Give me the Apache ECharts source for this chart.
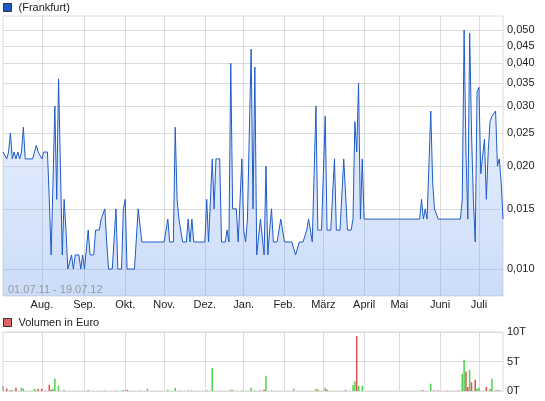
<!DOCTYPE html>
<html>
<head>
<meta charset="utf-8">
<script src="https://cdn.jsdelivr.net/npm/echarts@6/dist/echarts.min.js"></script>
<style>
  html, body { margin: 0; padding: 0; background: #fff; }
  #chart { width: 545px; height: 401px; }
</style>
</head>
<body>
<div id="chart"></div>
<script>
// Handelstage 01.07.11 - 19.07.12 (Wochenenden und Feiertage fallen weg)
const holidays = ['2011-12-26', '2012-04-06', '2012-04-09', '2012-05-01']
const dates = []
for (let d = new Date(Date.UTC(2011, 6, 1)); d <= new Date(Date.UTC(2012, 6, 19)); d.setUTCDate(d.getUTCDate() + 1)) {
  const wd = d.getUTCDay()
  const s = d.toISOString().slice(0, 10)
  if (wd === 0 || wd === 6 || holidays.indexOf(s) >= 0) continue
  dates.push(s)
}

const monthNames = ['Jan.', 'Feb.', 'März', 'April', 'Mai', 'Juni', 'Juli', 'Aug.', 'Sep.', 'Okt.', 'Nov.', 'Dez.']

// Schlusskurse in Euro
const prices = [
  0.022, 0.022, 0.021, 0.022, 0.025, 0.021, 0.022, 0.021, 0.022, 0.021,
  0.022, 0.026, 0.021, 0.021, 0.021, 0.021, 0.021, 0.022, 0.023, 0.022,
  0.022, 0.021, 0.022, 0.022, 0.022, 0.016, 0.011, 0.018, 0.030, 0.016,
  0.036, 0.020, 0.011, 0.016, 0.013, 0.010, 0.010, 0.011, 0.010, 0.011,
  0.011, 0.011, 0.010, 0.011, 0.010, 0.010, 0.013, 0.011, 0.011, 0.011,
  0.013, 0.013, 0.013, 0.014, 0.014, 0.015, 0.012, 0.010, 0.010, 0.010,
  0.010, 0.015, 0.010, 0.010, 0.010, 0.015, 0.016, 0.010, 0.010, 0.010,
  0.010, 0.010, 0.010, 0.015, 0.015, 0.012, 0.012, 0.012, 0.012, 0.012,
  0.012, 0.012, 0.012, 0.012, 0.012, 0.012, 0.012, 0.012, 0.012, 0.014,
  0.012, 0.012, 0.012, 0.026, 0.016, 0.014, 0.014, 0.012, 0.012, 0.012,
  0.014, 0.012, 0.014, 0.012, 0.012, 0.012, 0.012, 0.012, 0.012, 0.012,
  0.016, 0.012, 0.012, 0.021, 0.015, 0.021, 0.021, 0.021, 0.012, 0.012,
  0.012, 0.013, 0.012, 0.040, 0.015, 0.015, 0.015, 0.012, 0.012, 0.021,
  0.013, 0.012, 0.014, 0.014, 0.044, 0.015, 0.039, 0.011, 0.011, 0.014,
  0.014, 0.011, 0.020, 0.011, 0.013, 0.015, 0.012, 0.012, 0.012, 0.012,
  0.014, 0.014, 0.012, 0.012, 0.012, 0.012, 0.012, 0.012, 0.011, 0.011,
  0.012, 0.012, 0.012, 0.012, 0.013, 0.014, 0.013, 0.012, 0.012, 0.030,
  0.013, 0.013, 0.013, 0.013, 0.028, 0.013, 0.013, 0.013, 0.013, 0.021,
  0.013, 0.013, 0.013, 0.013, 0.021, 0.021, 0.013, 0.013, 0.013, 0.014,
  0.027, 0.022, 0.035, 0.014, 0.021, 0.014, 0.014, 0.014, 0.014, 0.014,
  0.014, 0.014, 0.014, 0.014, 0.014, 0.014, 0.014, 0.014, 0.014, 0.014,
  0.014, 0.014, 0.014, 0.014, 0.014, 0.014, 0.014, 0.014, 0.014, 0.014,
  0.014, 0.014, 0.014, 0.014, 0.014, 0.014, 0.016, 0.014, 0.015, 0.014,
  0.014, 0.029, 0.018, 0.015, 0.015, 0.014, 0.014, 0.014, 0.014, 0.014,
  0.014, 0.014, 0.014, 0.014, 0.014, 0.014, 0.014, 0.014, 0.016, 0.050,
  0.022, 0.014, 0.049, 0.025, 0.016, 0.012, 0.033, 0.034, 0.019, 0.019,
  0.024, 0.016, 0.022, 0.027, 0.028, 0.028, 0.029, 0.020, 0.021, 0.018,
  0.014
]

// Umsatz in Tausend Euro, nur Tage mit Umsatz (Index Handelstag, Wert)
const volumeDays = [0, 2, 4, 5, 7, 10, 11, 17, 18, 19, 21, 23, 25, 26, 27, 28, 30, 33, 46, 55,
  61, 65, 67, 74, 78, 89, 93, 96, 100, 102, 110, 113, 123, 124, 129, 134, 136, 139, 141, 142,
  145, 157, 169, 170, 174, 175, 185, 189, 190, 191, 192, 194, 226, 227, 231, 233, 235, 240, 246, 248,
  249, 250, 251, 252, 253, 255, 256, 257, 261, 263, 264, 266, 267, 268]
const volumeValues = [0.85, 0.4, 0.2, 0.1, 0.56, 0.56, 0.4, 0.4, 0.1, 0.4, 0.4, 0.1, 1.07, 0.2, 0.4, 2.1, 0.9, 0.15, 0.15, 0.1,
  0.1, 0.2, 0.2, 0.1, 0.4, 0.2, 0.56, 0.1, 0.1, 0.1, 0.1, 3.9, 0.2, 0.1, 0.1, 0.56, 0.1, 0.1, 0.2, 2.6,
  0.1, 0.4, 0.4, 0.2, 0.56, 0.2, 0.2, 1.0, 1.6, 9.3, 0.9, 0.9, 0.1, 0.1, 1.24, 0.1, 0.1, 0.1, 0.1, 2.9,
  5.3, 3.3, 0.68, 3.6, 1.47, 1.9, 0.4, 0.56, 0.68, 0.4, 2.1, 0.1, 0.1, 0.1]

const priceTicks = [0.010, 0.015, 0.020, 0.025, 0.030, 0.035, 0.040, 0.045, 0.050]

const textColor = '#222'
const gridColor = '#dcdcdc'
const fontFamily = 'Liberation Sans, Arial, sans-serif'

function isMonthStart(index) {
  return index > 0 && dates[index].slice(5, 7) !== dates[index - 1].slice(5, 7)
}

// Balkenfarbe nach Kursveränderung zum Vortag
let volumeData = dates.map(() => 0)
volumeDays.forEach((day, k) => { volumeData[day] = volumeValues[k] })
volumeData = volumeData.map((v, i) => {
  const diff = i > 0 ? prices[i] - prices[i - 1] : 0
  let color = '#a8a8a8'
  if (diff > 0.0000001) color = '#4fd24f'
  else if (diff < -0.0000001) color = '#dc5050'
  return { value: v, itemStyle: { color: color } }
})

const myChart = echarts.init(document.getElementById('chart'))

const option = {
  animation: false,
  textStyle: { fontFamily: fontFamily },
  legend: [{
    data: [{ name: '(Frankfurt)', itemStyle: { color: '#1f5bc6', borderColor: '#333', borderWidth: 1 } }],
    left: 3, top: 2, padding: 0,
    icon: 'rect', itemWidth: 8, itemHeight: 8,
    selectedMode: false,
    textStyle: { fontSize: 11, color: textColor, fontFamily: fontFamily, padding: [0, 0, 0, 2] }
  }, {
    data: [{ name: 'Volumen in Euro', itemStyle: { color: '#e06666', borderColor: '#333', borderWidth: 1 } }],
    left: 3, top: 317, padding: 0,
    icon: 'rect', itemWidth: 8, itemHeight: 8,
    selectedMode: false,
    textStyle: { fontSize: 11, color: textColor, fontFamily: fontFamily, padding: [0, 0, 0, 2] }
  }],
  graphic: [{
    type: 'text',
    left: 8, top: 284,
    z: 100,
    style: { text: '01.07.11 - 19.07.12', fill: '#999', font: '11px ' + fontFamily }
  }],
  grid: [{
    left: 3, right: 42, top: 16, bottom: 105,
    show: true, borderColor: gridColor, borderWidth: 1
  }, {
    left: 3, right: 42, top: 332, bottom: 10,
    show: true, borderColor: gridColor, borderWidth: 1
  }],
  xAxis: [{
    type: 'category', gridIndex: 0,
    data: dates, boundaryGap: false,
    axisLine: { show: false },
    axisTick: { show: false },
    axisLabel: {
      interval: isMonthStart,
      margin: 3,
      fontSize: 11, color: textColor,
      formatter: v => monthNames[parseInt(v.slice(5, 7), 10) - 1]
    },
    splitLine: { show: true, interval: isMonthStart, lineStyle: { color: gridColor } }
  }, {
    type: 'category', gridIndex: 1,
    data: dates, boundaryGap: false,
    axisLine: { show: false },
    axisTick: { show: false },
    axisLabel: { show: false },
    splitLine: { show: true, interval: isMonthStart, lineStyle: { color: gridColor } }
  }],
  yAxis: [{
    type: 'log', logBase: 10, gridIndex: 0,
    position: 'right',
    min: 0.00834, max: 0.055,
    axisLine: { show: false },
    axisTick: { show: false, customValues: priceTicks },
    axisLabel: {
      customValues: priceTicks,
      margin: 4, fontSize: 11, color: textColor,
      formatter: v => v.toFixed(3).replace('.', ',')
    },
    splitLine: { show: true, lineStyle: { color: gridColor } }
  }, {
    type: 'value', gridIndex: 1,
    position: 'right',
    min: 0, max: 10, interval: 5,
    axisLine: { show: false },
    axisTick: { show: false },
    axisLabel: {
      margin: 4, fontSize: 11, color: textColor,
      formatter: v => v + 'T'
    },
    splitLine: { show: true, lineStyle: { color: gridColor } }
  }],
  series: [{
    name: '(Frankfurt)',
    type: 'line',
    xAxisIndex: 0, yAxisIndex: 0,
    data: prices,
    showSymbol: false,
    itemStyle: { color: '#1f5bc6' },
    lineStyle: { color: '#1f5bc6', width: 1 },
    areaStyle: {
      origin: 'start',
      color: {
        type: 'linear', x: 0, y: 0, x2: 0, y2: 1,
        colorStops: [
          { offset: 0, color: 'rgba(170,200,245,0.30)' },
          { offset: 1, color: 'rgba(120,165,240,0.55)' }
        ]
      }
    }
  }, {
    name: 'Volumen in Euro',
    type: 'bar',
    xAxisIndex: 1, yAxisIndex: 1,
    data: volumeData,
    barWidth: 1.5,
    itemStyle: { color: '#e06666' }
  }]
}

myChart.setOption(option)
</script>
</body>
</html>
